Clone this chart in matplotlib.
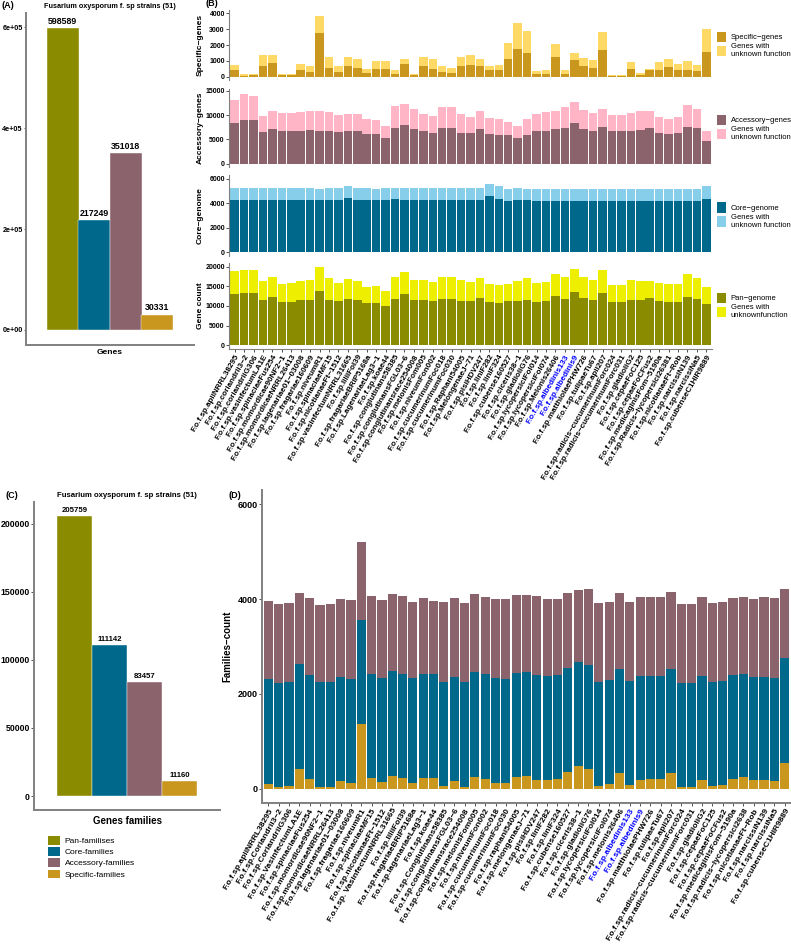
import numpy as np
import matplotlib
matplotlib.use("Agg")
import matplotlib.pyplot as plt
from matplotlib.patches import Patch

plt.rcParams['font.family'] = ['Liberation Sans', 'DejaVu Sans']

# ---------------- data ----------------
gene_types = ["Pan-genome", "Core-genome", "Accessory-genes", "Specific-genes"]
gene_totals = [598589, 217249, 351018, 30331]
family_types = ["Pan-familises", "Core-families", "Accessory-families", "Specific-families"]
family_totals = [205759, 111142, 83457, 11160]

strains_B = [
    "F.o.f.sp.apiiNRRL38295", "F.o.f.sp.coriandrii3-2", "F.o.f.sp.coriandriiG306",
    "F.o.f.sp.vasinfectumLA1E", "F.o.f.sp.spinaciaeFus254", "F.o.f.sp.momordicae90NF2-1",
    "F.o.f.sp.momordicaeNRRL26413", "F.o.f.sp.lagenariae01-03008", "F.o.f.sp.fragariae160609",
    "F.o.f.sp.niveumR1", "F.o.f.sp.spinaciaeMF15", "F.o.f.sp.nicotianaeFt-1512",
    "F.o.f.sp.vasinfectumNRRL31665", "F.o.f.sp.liliiFol39", "F.o.f.sp.fragariaeBRIP5168a",
    "F.o.f.sp.LagenariaeLag3-1", "F.o.f.sp.koae44", "F.o.f.sp.conglutinans58385",
    "F.o.f.sp.conglutinansFGL03-6", "F.o.f.sp.conglutinansrace254008", "F.o.f.sp.melonisFom005",
    "F.o.f.sp.niveumFon002", "F.o.f.sp.cucumerinumFoc018", "F.o.f.sp.cucumerinumFoc030",
    "F.o.f.sp.Raphani54005", "F.o.f.sp.MelongenaeJ-71", "F.o.f.sp.pisiHDV247",
    "F.o.f.sp.liniF282", "F.o.f.sp.liniF324", "F.o.f.sp.cubense160527",
    "F.o.f.sp.ciceris38-1", "F.o.f.sp.gladioliG76", "F.o.f.sp.lycopersiciFol014",
    "F.o.f.sp.lycopersiciFol074", "F.o.f.sp.Melonis26406", "F.o.f.sp.albedinis133",
    "F.o.f.sp.albedinis9", "F.o.f.sp.matthiolaePHW726", "F.o.f.sp.tulipaeTu67",
    "F.o.f.sp.apii207", "F.o.f.sp.radicis-cucumerinumForc024", "F.o.f.sp.radicis-cucumerinumForc031",
    "F.o.f.sp.gladioliG2", "F.o.f.sp.cepaeFoC125", "F.o.f.sp.cepaeFoCFus2",
    "F.o.f.sp.medicaginisFom-5190a", "F.o.f.sp.Radicis-lycopersici26381", "F.o.f.sp.nicotianaeFt-Rob",
    "F.o.f.sp.narcissiN139", "F.o.f.sp.narcissiNa5", "F.o.f.sp.cubenseC1HIR9889",
]
strains_D = [
    "F.o.f.sp.apiiNRRL38295", "F.o.f.sp.Coriandrii3-2", "F.o.f.sp.CoriandriiG306",
    "F.o.f.sp.VasinfectumLA1E", "F.o.f.sp.spinaciaeFus254", "F.o.f.sp.momordicae90NF2-1",
    "F.o.f.sp.momordicaeNRRL26413", "F.o.f.sp.lagenariae01-03008", "F.o.f.sp.fragariae160609",
    "F.o.f.sp.niveumR1", "F.o.f.sp.spinaciaeMF15", "F.o.f.sp.nicotianaeFt-1512",
    "F.o.f.sp. VasinfectumNRRL31665", "F.o.f.sp.liliiFol39", "F.o.f.sp.fragariaeBRIP5168a",
    "F.o.f.sp.lagenariaeLag3-1", "F.o.f.sp.koae44", "F.o.f.sp.Conglutinans58385",
    "F.o.f.sp.conglutinansFGL03-6", "F.o.f.sp.conglutinansrace254008", "F.o.f.sp.melonisFom005",
    "F.o.f.sp.niveumFon002", "F.o.f.sp.cucumerinumFoc018", "F.o.f.sp.cucumerinumFoc030",
    "F.o.f.sp.raphani54005", "F.o.f.sp.melongenaeJ-71", "F.o.f.sp.pisiHDV247",
    "F.o.f.sp.liniF282", "F.o.f.sp.liniF324", "F.o.f.sp.cubense160527",
    "F.o.f.sp.ciceris38-1", "F.o.f.sp.gladioliG76", "F.o.f.sp.lycopersiciFol014",
    "F.o.f.sp.lycopersiciFol074", "F.o.f.sp.melonis26406", "F.o.f.sp.albedinis133",
    "F.o.f.sp.albedinis9", "F.o.f.sp.matthiolaePHW726", "F.o.f.sp.tulipaeTu67",
    "F.o.f.sp.apii207", "F.o.f.sp.radicis-cucumerinumForc024", "F.o.f.sp.radicis-cucumerinumForc031",
    "F.o.f.sp.gladioliG2", "F.o.f.sp.cepaeFoC125", "F.o.f.sp.cepaeFoCFus2",
    "F.o.f.sp.medicaginisFom-5190a", "F.o.f.sp.radicis-lycopersici2638", "F.o.f.sp.nicotianaeFt-Rob",
    "F.o.f.sp.narcissiN139", "F.o.f.sp.narcissiNa5", "F.o.f.sp.cubenseC1HIR9889",
]
highlighted = ["albedinis133", "albedinis9"]

spec_known = [420, 80, 125, 670, 900, 85, 85, 400, 290, 2730,
              580, 330, 670, 540, 230, 480, 480, 170, 790, 85,
              650, 520, 330, 270, 650, 730, 650, 400, 420, 1100,
              1750, 1500, 170, 190, 1250, 190, 1040, 710, 580, 1670,
              80, 80, 480, 125, 400, 460, 600, 460, 460, 350, 1580]
spec_unknown = [310, 70, 83, 730, 475, 85, 85, 390, 360, 1090,
                650, 320, 580, 610, 250, 520, 500, 270, 360, 85,
                600, 630, 380, 290, 620, 670, 500, 250, 330, 1025,
                1650, 1350, 180, 270, 830, 210, 460, 480, 500, 1140,
                45, 45, 480, 105, 120, 500, 550, 330, 520, 420, 1440]
acc_known = [8420, 8970, 8900, 6500, 7150, 6680, 6750, 6770, 6900, 6780,
             6800, 6570, 6640, 6630, 6170, 6030, 5260, 7280, 7880, 7060,
             6690, 6380, 7300, 7320, 6390, 6320, 7120, 6090, 5970, 5940,
             5210, 5930, 6640, 6780, 7120, 7400, 8290, 7120, 6710, 7470,
             6640, 6640, 6780, 6990, 7260, 6370, 6160, 6370, 7600, 7260, 4590]
acc_unknown = [4780, 5330, 5000, 3400, 3630, 3700, 3770, 3780, 3880, 4180,
               3860, 3400, 3610, 3520, 3090, 2970, 2410, 4550, 4380, 4260,
               3650, 3440, 4330, 4330, 3760, 3370, 3780, 3310, 3280, 2610,
               2510, 3190, 3700, 3900, 3840, 4380, 4510, 3980, 3700, 3900,
               3430, 3430, 3630, 3900, 3560, 3290, 3090, 3290, 4520, 4110, 2120]
core_known = [4300, 4300, 4300, 4300, 4300, 4300, 4300, 4300, 4280, 4280,
              4300, 4300, 4410, 4300, 4280, 4260, 4280, 4310, 4300, 4300,
              4300, 4300, 4280, 4300, 4300, 4280, 4280, 4550, 4380, 4190,
              4250, 4230, 4190, 4190, 4190, 4190, 4190, 4190, 4190, 4190,
              4190, 4190, 4190, 4190, 4190, 4190, 4190, 4190, 4190, 4190, 4330]
core_unknown = [930, 930, 930, 930, 930, 930, 930, 930, 920, 900,
                930, 930, 960, 930, 920, 920, 920, 950, 930, 930,
                930, 930, 920, 930, 930, 920, 920, 1010, 990, 960,
                980, 950, 960, 960, 960, 990, 990, 960, 960, 960,
                960, 960, 990, 960, 990, 940, 960, 960, 960, 960, 1040]
pan_known = [13060, 13270, 13330, 11540, 12310, 11030, 11110, 11450, 11450, 13760,
             11620, 11200, 11710, 11450, 10680, 10770, 10000, 11710, 12990, 11450,
             11620, 11200, 11880, 11880, 11280, 11280, 12050, 11030, 10770, 11200,
             11200, 11620, 11030, 11280, 12650, 11880, 13590, 12140, 11540, 13330,
             10940, 10940, 11450, 11450, 11970, 11200, 10940, 11030, 12310, 11880, 10600]
pan_unknown = [6020, 5930, 5900, 4870, 5040, 4700, 4700, 5050, 5130, 6150,
               5470, 4610, 5130, 4960, 4190, 4360, 3760, 5730, 5640, 5220,
               5130, 4950, 5640, 5560, 5390, 4960, 5130, 4530, 4530, 4530,
               5120, 5470, 4780, 4960, 5450, 5470, 5810, 5210, 5130, 5900,
               4530, 4530, 5130, 4870, 4530, 4610, 4620, 4530, 5810, 5380, 4360]

fam_specific = [105, 28, 56, 414, 196, 35, 35, 161, 126, 1361,
                225, 140, 274, 218, 126, 225, 225, 56, 154, 42,
                246, 211, 119, 112, 246, 260, 190, 190, 211, 351,
                470, 421, 63, 98, 337, 84, 190, 204, 204, 337,
                42, 35, 190, 56, 84, 211, 239, 175, 175, 160, 540]
fam_core = [2211, 2197, 2204, 2225, 2211, 2211, 2218, 2204, 2197, 2204,
            2203, 2197, 2217, 2196, 2211, 2196, 2189, 2204, 2197, 2218,
            2217, 2210, 2211, 2211, 2203, 2203, 2210, 2196, 2196, 2189,
            2197, 2189, 2197, 2197, 2189, 2190, 2182, 2182, 2182, 2189,
            2197, 2190, 2189, 2190, 2197, 2189, 2182, 2190, 2190, 2184, 2218]
fam_accessory = [1649, 1663, 1663, 1487, 1607, 1635, 1635, 1635, 1649, 1649,
                 1635, 1635, 1614, 1642, 1607, 1600, 1544, 1670, 1663, 1656,
                 1635, 1621, 1677, 1670, 1635, 1628, 1656, 1614, 1586, 1579,
                 1529, 1594, 1649, 1649, 1600, 1670, 1670, 1663, 1656, 1614,
                 1649, 1663, 1656, 1670, 1656, 1628, 1621, 1628, 1684, 1677, 1453]

# ---------------- style ----------------
OLIVE, TEAL, MAUVE, GOLD = "#8B8B00", "#00688B", "#8B636C", "#C9961E"
LGOLD, PINK, SKY, YEL = "#FFD966", "#FFB5C5", "#87CEEB", "#EEEE00"
AXC = "#808080"
W, H = 791, 952
fig = plt.figure(figsize=(W / 100, H / 100), dpi=100)


def px_axes(x0, y0, x1, y1):
    return fig.add_axes([x0 / W, 1 - y1 / H, (x1 - x0) / W, (y1 - y0) / H])


def style(ax, bottom=True, lw=1.0):
    for s in ["top", "right"]:
        ax.spines[s].set_visible(False)
    ax.spines["left"].set_color(AXC)
    ax.spines["left"].set_linewidth(lw)
    if bottom:
        ax.spines["bottom"].set_color(AXC)
        ax.spines["bottom"].set_linewidth(lw)
    else:
        ax.spines["bottom"].set_visible(False)
    ax.tick_params(axis="both", length=2, width=0.6, color="#333333", pad=1)


def mm(s):
    return s.replace("-", "\u2212")


def panel_label(x, y, s):
    fig.text(x / W, 1 - y / H, s, fontsize=6.5, fontweight="bold", ha="left", va="center")


colors4 = [OLIVE, TEAL, MAUVE, GOLD]
bw = 0.225
xs4 = 1 + (np.arange(4) - 1.5) * bw

# ---------------- Panel A ----------------
axA = px_axes(26, 13, 194, 345)
style(axA, lw=1.4)
axA.bar(xs4, gene_totals, width=bw, color=colors4, edgecolor="white", linewidth=0.3)
mA = max(gene_totals)
axA.set_xlim(0.4, 1.6)
axA.set_ylim(-0.05 * mA, 1.05 * mA)
axA.set_yticks([0, 2e5, 4e5, 6e5])
axA.set_yticklabels(["0e+00", "2e+05", "4e+05", "6e+05"], fontsize=5.2, fontweight="bold")
axA.tick_params(axis="y", length=1.5, pad=0.8)
axA.set_xticks([1])
axA.set_xticklabels(["Genes"], fontsize=6, fontweight="bold")
axA.tick_params(axis="x", length=0, pad=3)
for xv, v in zip(xs4, gene_totals):
    axA.text(xv, v + 0.008 * mA, str(v), ha="center", va="bottom", fontsize=6.3, fontweight="bold")
fig.text(110 / W, 1 - 6 / H, "Fusarium oxysporum f. sp strains (51)", fontsize=5.2,
         fontweight="bold", ha="center", va="center")
panel_label(1, 5, "(A)")

# ---------------- Panel B ----------------
xb = np.arange(1, 52)
rows = [
    (spec_known, spec_unknown, GOLD, LGOLD, "Specific\u2212genes", (-200, 4200),
     [0, 1000, 2000, 3000, 4000], ["Specific\u2212genes", "Genes with\nunknown function"], (10, 80)),
    (acc_known, acc_unknown, MAUVE, PINK, "Accessory\u2212genes", (-700, 15400),
     [0, 5000, 10000, 15000], ["Accessory\u2212genes", "Genes with\nunknown function"], (89, 167)),
    (core_known, core_unknown, TEAL, SKY, "Core\u2212genome", (-300, 6300),
     [0, 2000, 4000, 6000], ["Core\u2212genome", "Genes with\nunknown function"], (175, 256)),
    (pan_known, pan_unknown, OLIVE, YEL, "Gene count", (-1000, 21000),
     [0, 5000, 10000, 15000, 20000], ["Pan\u2212genome", "Genes with\nunknownfunction"], (263, 349)),
]
for i, (known, unk, cd, cl, ylab, ylim, ticks, leg, (y0, y1)) in enumerate(rows):
    last = i == len(rows) - 1
    ax = px_axes(229, y0, 712, y1)
    style(ax, bottom=last, lw=0.8)
    ax.bar(xb, known, width=0.9, color=cd, linewidth=0)
    ax.bar(xb, unk, bottom=known, width=0.9, color=cl, linewidth=0)
    ax.set_xlim(0.4, 51.6)
    ax.set_ylim(*ylim)
    ax.set_yticks(ticks)
    ax.set_yticklabels([str(t) for t in ticks], fontsize=5, fontweight="bold")
    ax.set_ylabel(ylab, fontsize=6, fontweight="bold")
    ax.yaxis.set_label_coords((204 - 229) / 483, 0.5)
    if last:
        ax.set_xticks(xb)
        ax.set_xticklabels([mm(s) for s in strains_B], rotation=60, ha="right", va="top",
                           rotation_mode="anchor", fontsize=5.8, fontweight="bold")
        for lab, s in zip(ax.get_xticklabels(), strains_B):
            if any(h in s for h in highlighted):
                lab.set_color("#0000FF")
    else:
        ax.set_xticks([])
    handles = [Patch(facecolor=cd, edgecolor="none"), Patch(facecolor=cl, edgecolor="none")]
    ax.legend(handles, leg, loc="center left", bbox_to_anchor=(1.01, 0.5), frameon=False,
              fontsize=5.5, handlelength=1.2, handleheight=1.8, handletextpad=0.6,
              labelspacing=0.15, borderaxespad=0, borderpad=0)
panel_label(205, 4, "(B)")

# ---------------- Panel C ----------------
axC = px_axes(34, 502, 220, 810)
style(axC, lw=1.4)
axC.bar(xs4, family_totals, width=bw, color=colors4, edgecolor="white", linewidth=0.3)
mC = max(family_totals)
axC.set_xlim(0.4, 1.6)
axC.set_ylim(-0.05 * mC, 1.05 * mC)
axC.set_yticks([0, 50000, 100000, 150000, 200000])
axC.set_yticklabels(["0", "50000", "100000", "150000", "200000"], fontsize=6.3, fontweight="bold")
axC.set_xticks([])
axC.set_xlabel("Genes families", fontsize=7, fontweight="bold", labelpad=4)
for xv, v in zip(xs4, family_totals):
    axC.text(xv, v + 0.008 * mC, str(v), ha="center", va="bottom", fontsize=5.6, fontweight="bold")
fig.text(127 / W, 1 - 495 / H, "Fusarium oxysporum f. sp strains (51)", fontsize=5.6,
         fontweight="bold", ha="center", va="center")
panel_label(6, 495, "(C)")
handlesC = [Patch(facecolor=c, edgecolor="none") for c in colors4]
fig.legend(handlesC, family_types, loc="upper left", bbox_to_anchor=(48 / W, 1 - 836 / H),
           frameon=False, fontsize=6.0, handlelength=1.4, handleheight=1.2, handletextpad=0.6,
           labelspacing=0.25, borderaxespad=0, borderpad=0)

# ---------------- Panel D ----------------
axD = px_axes(262, 490, 791, 803)
style(axD, lw=1.4)
fs_ = np.array(fam_specific)
fc_ = np.array(fam_core)
fa_ = np.array(fam_accessory)
axD.bar(xb, fs_, width=0.9, color=GOLD, linewidth=0)
axD.bar(xb, fc_, bottom=fs_, width=0.9, color=TEAL, linewidth=0)
axD.bar(xb, fa_, bottom=fs_ + fc_, width=0.9, color=MAUVE, linewidth=0)
axD.set_xlim(0.4, 51.6)
axD.set_ylim(-300, 6300)
axD.set_yticks([0, 2000, 4000, 6000])
axD.set_yticklabels(["0", "2000", "4000", "6000"], fontsize=6.5, fontweight="bold")
axD.set_ylabel("Families\u2212count", fontsize=7, fontweight="bold")
axD.yaxis.set_label_coords((232 - 262) / 529, 0.5)
axD.set_xticks(xb)
axD.set_xticklabels([mm(s) for s in strains_D], rotation=60, ha="right", va="top",
                    rotation_mode="anchor", fontsize=6.0, fontweight="bold")
for lab, s in zip(axD.get_xticklabels(), strains_D):
    if any(h in s for h in highlighted):
        lab.set_color("#0000FF")
panel_label(228, 495, "(D)")

fig.savefig("out.png", dpi=100)
